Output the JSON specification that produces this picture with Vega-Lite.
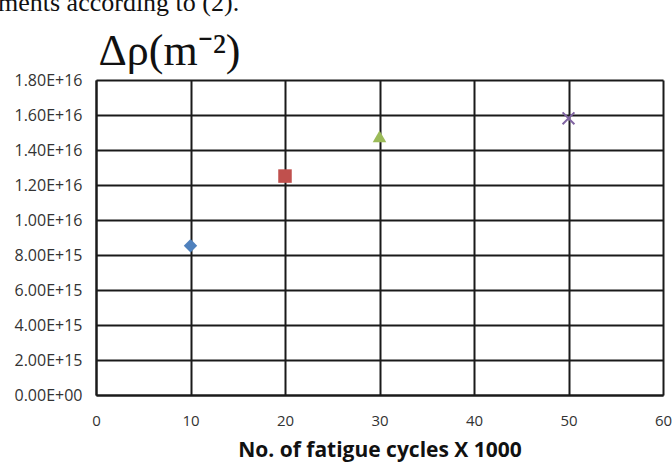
{
  "$schema": "https://vega.github.io/schema/vega-lite/v6.json",
  "width": 567,
  "height": 315,
  "autosize": {"type": "none"},
  "padding": {"left": 96, "top": 80, "right": 9, "bottom": 69},
  "background": "white",
  "title": {
    "text": "ments according to (2).",
    "anchor": "start",
    "frame": "group",
    "dx": -98,
    "dy": -9,
    "font": "Liberation Serif",
    "fontSize": 26,
    "fontWeight": "normal",
    "color": "#111111"
  },
  "config": {
    "view": {"stroke": null},
    "axis": {
      "grid": true,
      "gridColor": "#1a1a1a",
      "gridWidth": 2,
      "gridOpacity": 1,
      "domainColor": "#1a1a1a",
      "domainWidth": 2,
      "ticks": false,
      "tickSize": 0,
      "labelFont": "Open Sans",
      "labelFontSize": 15,
      "labelColor": "#333333",
      "labelFlush": false,
      "labelBound": false,
      "labelOverlap": false
    }
  },
  "data": {
    "values": [
      {"cycles": 10, "rho": 8.53e15, "series": "10k"},
      {"cycles": 20, "rho": 1.251e16, "series": "20k"},
      {"cycles": 30, "rho": 1.478e16, "series": "30k"},
      {"cycles": 50, "rho": 1.581e16, "series": "50k"}
    ]
  },
  "encoding": {
    "x": {
      "field": "cycles",
      "type": "quantitative",
      "scale": {"domain": [0, 60], "nice": false},
      "axis": {
        "values": [0, 10, 20, 30, 40, 50, 60],
        "labelPadding": 18,
        "title": "No. of fatigue cycles X 1000",
        "titleFont": "Open Sans",
        "titleFontSize": 21,
        "titleFontWeight": "bold",
        "titleColor": "#111111",
        "titlePadding": 11
      }
    },
    "y": {
      "field": "rho",
      "type": "quantitative",
      "scale": {"domain": [0, 1.8e16], "nice": false},
      "axis": {
        "values": [0, 2e15, 4e15, 6e15, 8e15, 1e16, 1.2e16, 1.4e16, 1.6e16, 1.8e16],
        "labelExpr": "datum.value == 0 ? '0.00E+00' : replace(format(datum.value, '.2e'), 'e', 'E')",
        "labelFontSize": 16,
        "labelPadding": 14,
        "title": "Δρ(m⁻²)",
        "titleAngle": 0,
        "titleAlign": "left",
        "titleBaseline": "alphabetic",
        "titleX": 2,
        "titleY": -16,
        "titleFont": "Liberation Serif",
        "titleFontSize": 44,
        "titleFontWeight": "normal",
        "titleColor": "#111111"
      }
    }
  },
  "layer": [
    {
      "transform": [{"filter": "datum.series != '50k'"}],
      "mark": {"type": "point", "filled": true, "opacity": 1},
      "encoding": {
        "shape": {
          "field": "series",
          "type": "nominal",
          "scale": {"domain": ["10k", "20k", "30k"], "range": ["diamond", "square", "triangle-up"]},
          "legend": null
        },
        "color": {
          "field": "series",
          "type": "nominal",
          "scale": {"domain": ["10k", "20k", "30k"], "range": ["#4F81BD", "#C0504D", "#9BBB59"]},
          "legend": null
        },
        "size": {
          "field": "series",
          "type": "nominal",
          "scale": {"domain": ["10k", "20k", "30k"], "range": [180, 185, 225]},
          "legend": null
        }
      }
    },
    {
      "transform": [{"filter": "datum.series == '50k'"}],
      "mark": {
        "type": "point",
        "filled": false,
        "shape": "M-1,-1L1,1M-1,1L1,-1",
        "size": 140,
        "stroke": "#8064A2",
        "strokeWidth": 2,
        "opacity": 1
      }
    }
  ]
}
